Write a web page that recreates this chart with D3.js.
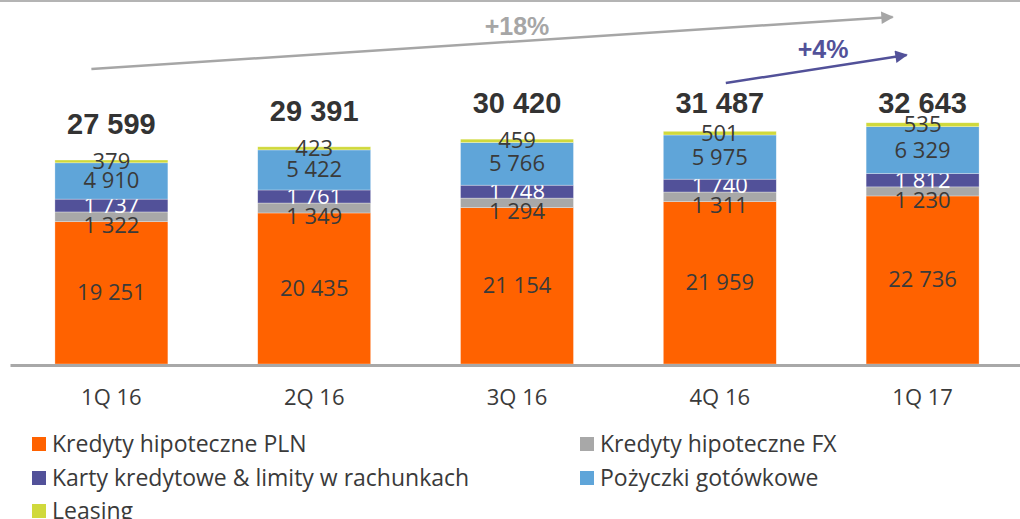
<!DOCTYPE html>
<html>
<head>
<meta charset="utf-8">
<script src="https://cdn.jsdelivr.net/npm/d3@7"></script>
<style>
  body { margin: 0; background: #fff; }
  svg { display: block; font-family: "Open Sans", "Liberation Sans", Arial, sans-serif; }
</style>
</head>
<body>
<script>
//stacked bars of retail loans by quarter

//categories and series values
var quarters = ["1Q 16", "2Q 16", "3Q 16", "4Q 16", "1Q 17"];
var plnMortgage = [19251, 20435, 21154, 21959, 22736];
var fxMortgage = [1322, 1349, 1294, 1311, 1230];
var cards = [1737, 1761, 1748, 1740, 1812];
var cashLoans = [4910, 5422, 5766, 5975, 6329];
var leasing = [379, 423, 459, 501, 535];
var totals = [27599, 29391, 30420, 31487, 32643];

var seriesNames = ["Kredyty hipoteczne PLN", "Kredyty hipoteczne FX",
    "Karty kredytowe & limity w rachunkach", "Pożyczki gotówkowe", "Leasing"];
var seriesColors = ["#ff6200", "#a8a8a8", "#525199", "#5fa5d9", "#d0d93c"];

(function(){

    var width = 1020,
        height = 519;

    var svg = d3.select("body")
        .append("svg")
        .attr("width", width)
        .attr("height", height);

    //build rows for the stack
    var keys = ["pln", "fx", "cards", "cash", "leasing"];
    var rows = quarters.map(function(q, i){
        return {q: q, pln: plnMortgage[i], fx: fxMortgage[i], cards: cards[i],
            cash: cashLoans[i], leasing: leasing[i], total: totals[i]};
    });
    var stacked = d3.stack().keys(keys)(rows);

    var x = d3.scaleBand()
        .domain(quarters)
        .range([10, 1024])
        .paddingInner(0.443)
        .paddingOuter(0.2215);

    var y = d3.scaleLinear()
        .domain([0, 49250])
        .range([364, 0]);

    //top border line
    svg.append("line")
        .attr("x1", 0).attr("x2", width)
        .attr("y1", 1).attr("y2", 1)
        .attr("stroke", "#b4b4b4")
        .attr("stroke-width", 2);

    //segments
    var layers = svg.selectAll(".layer")
        .data(stacked)
        .enter()
        .append("g")
        .attr("class", "layer")
        .attr("fill", function(d, i){ return seriesColors[i]; });

    layers.selectAll("rect")
        .data(function(d){ return d; })
        .enter()
        .append("rect")
        .attr("x", function(d){ return x(d.data.q); })
        .attr("y", function(d){ return y(d[1]); })
        .attr("width", x.bandwidth())
        .attr("height", function(d){ return y(d[0]) - y(d[1]); })
        .attr("stroke", "#fff")
        .attr("stroke-opacity", 0.5)
        .attr("stroke-width", 0.6);

    //segment labels (FX ones sit a bit lower, like in the original)
    var labelShift = [0, 9, 0, 0, 0];
    var fmt = function(v){ return d3.format(",")(v).replace(/,/g, " "); };

    layers.selectAll("text")
        .data(function(d, i){ return d.map(function(p){ return {p: p, s: i}; }); })
        .enter()
        .append("text")
        .attr("x", function(d){ return x(d.p.data.q) + x.bandwidth() / 2; })
        .attr("y", function(d){ return (y(d.p[0]) + y(d.p[1])) / 2 + labelShift[d.s]; })
        .attr("dy", "0.34em")
        .attr("text-anchor", "middle")
        .attr("font-size", 22)
        .attr("fill", function(d){ return d.s == 2 ? "#ffffff" : "#3a3a3a"; })
        .text(function(d){ return fmt(d.p.data[keys[d.s]]); });

    //totals above the bars
    svg.selectAll(".total")
        .data(rows)
        .enter()
        .append("text")
        .attr("class", "total")
        .attr("x", function(d){ return x(d.q) + x.bandwidth() / 2; })
        .attr("y", function(d){ return Math.max(y(d.total) - 26, 113); })
        .attr("text-anchor", "middle")
        .attr("font-size", 29)
        .attr("font-weight", "bold")
        .attr("font-family", "Liberation Sans, Arial, sans-serif")
        .attr("fill", "#333")
        .text(function(d){ return fmt(d.total); });

    //category axis
    var axis = svg.append("g")
        .attr("transform", "translate(0,365)")
        .call(d3.axisBottom(x).tickSize(0).tickSizeOuter(0).tickPadding(24));
    axis.select(".domain")
        .attr("stroke", "#a8a8a8")
        .attr("stroke-width", 3);
    axis.selectAll("text")
        .attr("font-size", 22)
        .attr("font-family", "Open Sans, Liberation Sans, Arial, sans-serif")
        .attr("fill", "#3a3a3a");

    //trend arrows
    var defs = svg.append("defs");
    function marker(id, color){
        defs.append("marker")
            .attr("id", id)
            .attr("viewBox", "0 0 10 10")
            .attr("refX", 9).attr("refY", 5)
            .attr("markerWidth", 6).attr("markerHeight", 5)
            .attr("markerUnits", "strokeWidth")
            .attr("orient", "auto")
            .append("path")
            .attr("d", "M0,0L10,5L0,10Z")
            .attr("fill", color);
    }
    marker("arrGray", "#a6a6a6");
    marker("arrPurple", "#525199");

    var c0 = x(quarters[0]) + x.bandwidth() / 2,
        c4 = x(quarters[4]) + x.bandwidth() / 2,
        c3 = x(quarters[3]) + x.bandwidth() / 2;

    svg.append("line")
        .attr("x1", c0 - 20).attr("y1", 69)
        .attr("x2", c4 - 30).attr("y2", 17)
        .attr("stroke", "#a6a6a6")
        .attr("stroke-width", 2.5)
        .attr("marker-end", "url(#arrGray)");

    svg.append("text")
        .attr("x", (c0 + c4) / 2)
        .attr("y", 35)
        .attr("text-anchor", "middle")
        .attr("font-size", 25)
        .attr("font-weight", "bold")
        .attr("font-family", "Liberation Sans, Arial, sans-serif")
        .attr("fill", "#a6a6a6")
        .text("+18%");

    svg.append("line")
        .attr("x1", c3 + 6).attr("y1", 83)
        .attr("x2", c4 - 16).attr("y2", 55)
        .attr("stroke", "#525199")
        .attr("stroke-width", 2.5)
        .attr("marker-end", "url(#arrPurple)");

    svg.append("text")
        .attr("x", 823)
        .attr("y", 58)
        .attr("text-anchor", "middle")
        .attr("font-size", 25)
        .attr("font-weight", "bold")
        .attr("font-family", "Liberation Sans, Arial, sans-serif")
        .attr("fill", "#525199")
        .text("+4%");

    //legend
    var legendPos = [[32, 444], [580, 444], [32, 478], [580, 478], [32, 511]];
    var legend = svg.selectAll(".legend")
        .data(seriesNames)
        .enter()
        .append("g")
        .attr("class", "legend")
        .attr("transform", function(d, i){
            return "translate(" + legendPos[i][0] + "," + legendPos[i][1] + ")";
        });

    legend.append("rect")
        .attr("x", 0).attr("y", -7)
        .attr("width", 14).attr("height", 14)
        .attr("fill", function(d, i){ return seriesColors[i]; });

    legend.append("text")
        .attr("x", 20)
        .attr("y", 8)
        .attr("font-size", 23)
        .attr("fill", "#3a3a3a")
        .text(function(d){ return d; });

})();
</script>
</body>
</html>
